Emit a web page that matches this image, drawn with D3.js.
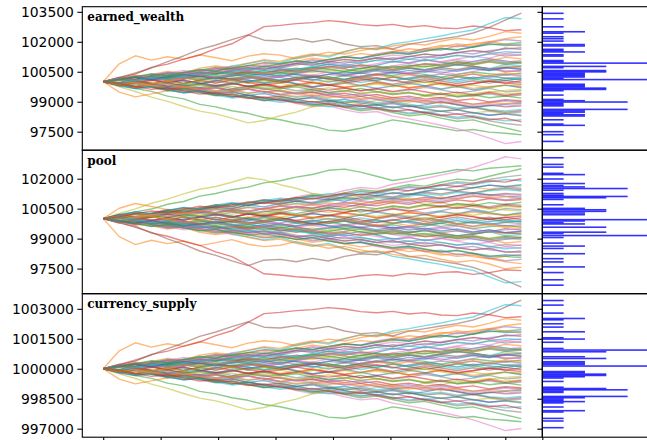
<!DOCTYPE html>
<html>
<head>
<meta charset="utf-8">
<script src="https://cdn.jsdelivr.net/npm/d3@7"></script>
<style>
  body { margin: 0; background: #fff; }
  svg { display: block; }
  .panel_label { font-family: "DejaVu Serif", serif; font-weight: bold; font-size: 12px; }
</style>
</head>
<body>
<div id="chart"></div>
<script>
var days = [0, 14, 28, 42, 56, 70, 84, 98, 112, 126, 140, 154, 168, 182, 196, 210, 224, 238, 252, 266, 280, 294, 308, 322, 336, 350, 364]

var earned_start = 100000
var pool_start = 100000
var supply_start = 1000000

// Change of earned_wealth from its start, one row per simulated run.
// The pool moves by the opposite amount; currency_supply by the same amount.
var walks = [
  [0, 180, 60, 290, 410, 250, 380, 520, 460, 300, 420, 610, 540, 700, 880, 760, 650, 820, 1010, 940, 1100, 980, 850, 1020, 1150, 1040, 930],
  [0, 900, 1300, 1080, 1250, 1120, 1350, 1200, 1050, 1280, 1400, 1330, 1150, 1300, 1480, 1390, 1560, 1700, 1620, 1480, 1650, 1820, 1750, 1900, 2010, 1880, 1790],
  [0, -120, -340, -480, -720, -860, -1130, -1260, -1450, -1580, -1790, -1900, -2080, -2210, -2420, -2480, -2330, -2120, -1910, -2030, -2180, -2310, -2460, -2390, -2520, -2580, -2650],
  [0, 210, 380, 720, 880, 1130, 1340, 1660, 1900, 2320, 2760, 2820, 2910, 2960, 3060, 2990, 2860, 2800, 2870, 2740, 2810, 2690, 2660, 2790, 2700, 2560, 2600],
  [0, 120, -80, 150, 340, 260, 480, 390, 620, 550, 790, 700, 920, 1110, 1020, 1240, 1180, 1390, 1520, 1430, 1650, 1580, 1810, 1730, 1960, 2110, 2040],
  [0, 200, 440, 690, 1010, 1290, 1620, 1840, 2110, 2350, 2080, 2040, 2160, 1990, 2120, 1890, 1760, 1810, 1640, 1880, 2010, 2140, 2260, 2440, 2720, 3090, 3430],
  [0, 110, -60, -210, -340, -290, -520, -660, -590, -810, -960, -880, -1090, -1240, -1190, -1410, -1560, -1490, -1720, -1860, -2010, -2180, -2350, -2560, -2820, -3100, -2990],
  [0, -140, 30, -110, -260, -180, -330, -220, -70, -240, -130, 40, -90, -250, -160, -320, -450, -370, -520, -410, -280, -400, -560, -470, -330, -510, -450],
  [0, -260, -490, -770, -980, -1240, -1470, -1610, -1820, -2060, -1940, -1700, -1520, -1260, -1140, -990, -1110, -920, -790, -960, -710, -820, -610, -760, -520, -430, -390],
  [0, -110, 90, 310, 190, 460, 590, 510, 790, 910, 1060, 940, 1190, 1350, 1240, 1490, 1710, 1640, 1890, 2010, 2160, 2290, 2460, 2590, 2910, 3210, 3150],
  [0, -90, -260, -130, -310, -450, -380, -560, -490, -680, -590, -760, -880, -810, -990, -870, -1050, -1180, -1090, -1250, -1160, -1010, -1140, -1280, -1200, -1130, -1080],
  [0, 230, 140, 360, 520, 430, 680, 790, 710, 930, 1100, 1020, 1240, 1390, 1310, 1520, 1680, 1600, 1790, 1910, 1840, 2030, 2180, 2090, 2270, 2510, 2430],
  [0, 150, 40, 210, 90, -80, 60, 190, 70, -60, 110, -40, 130, 260, 140, 310, 190, 60, 230, 100, -40, 90, 240, 150, 20, 170, 110],
  [0, -160, -50, 100, -40, -200, -110, 60, -70, -230, -120, -280, -190, -30, -150, -290, -180, -40, -170, -300, -210, -60, -190, -90, 40, -60, -130],
  [0, -120, -280, -200, -390, -530, -440, -620, -750, -680, -860, -790, -970, -1100, -1020, -1200, -1130, -1310, -1240, -1400, -1550, -1470, -1620, -1540, -1680, -1590, -1520],
  [0, 90, 230, 120, 280, 200, 340, 450, 360, 510, 420, 560, 680, 590, 720, 640, 510, 650, 780, 690, 560, 700, 610, 750, 660, 500, 560],
  [0, 170, 320, 240, 410, 560, 480, 630, 780, 700, 860, 770, 920, 1060, 980, 1130, 1050, 1200, 1340, 1260, 1390, 1310, 1460, 1570, 1490, 1410, 1490],
  [0, -80, 60, -90, -210, -120, -280, -170, -330, -250, -390, -300, -450, -370, -520, -440, -590, -500, -640, -560, -710, -630, -760, -690, -600, -730, -670],
  [0, -90, 60, 200, 120, 270, 190, 330, 250, 390, 480, 400, 540, 460, 610, 530, 680, 590, 730, 650, 790, 710, 850, 760, 640, 770, 700],
  [0, -180, -330, -250, -420, -560, -490, -680, -810, -740, -900, -1030, -960, -1120, -1250, -1180, -1340, -1270, -1430, -1560, -1490, -1650, -1780, -1700, -1850, -1960, -1900],
  [0, 200, 110, 310, 470, 400, 580, 720, 650, 810, 960, 890, 1040, 950, 1120, 1260, 1180, 1330, 1470, 1390, 1540, 1680, 1600, 1750, 1900, 1810, 1860],
  [0, -520, -760, -610, -450, -300, -420, -260, -110, 40, -100, -230, -150, 0, -130, -270, -190, -50, -170, -310, -220, -80, -200, -330, -240, -170, -250],
  [0, -120, 20, -100, 50, 180, 90, 230, 140, 280, 190, 60, 210, 330, 250, 120, 260, 390, 310, 450, 370, 230, 360, 490, 400, 340, 430],
  [0, -100, -240, -150, -310, -230, -380, -300, -460, -370, -510, -430, -580, -500, -650, -570, -720, -640, -800, -720, -870, -790, -940, -860, -1010, -900, -950],
  [0, 60, 250, 180, 30, 140, 320, 250, 90, -40, 110, 240, 380, 290, 160, 50, 200, 330, 470, 390, 250, 120, 270, 380, 230, 360, 300],
  [0, -60, 80, -70, -230, -370, -290, -450, -360, -210, -340, -480, -620, -540, -700, -810, -730, -890, -1020, -930, -1080, -1000, -1150, -1290, -1170, -1260, -1210],
  [0, 140, 30, 190, 330, 460, 370, 520, 410, 560, 690, 600, 480, 620, 750, 870, 780, 640, 790, 920, 830, 970, 1100, 990, 1130, 990, 1060],
  [0, -210, -120, -290, -460, -380, -550, -700, -620, -780, -930, -850, -1010, -1160, -1080, -1240, -1380, -1300, -1460, -1610, -1540, -1700, -1850, -1780, -1960, -2090, -2180],
  [0, 100, 260, 170, 330, 240, 120, 270, 410, 330, 470, 390, 540, 660, 570, 430, 560, 700, 610, 760, 880, 790, 930, 840, 980, 870, 930],
  [0, -130, 20, -140, -290, -220, -380, -510, -430, -580, -490, -650, -780, -700, -860, -990, -900, -1050, -970, -1120, -1250, -1170, -1320, -1240, -1400, -1460, -1385],
  [0, -60, 100, 230, 150, 20, -110, 40, 180, 90, -50, 80, 210, 130, -10, 120, 260, 170, 40, 190, 310, 220, 90, 230, 140, 60, 170],
  [0, 160, 310, 250, 430, 360, 540, 690, 610, 780, 930, 860, 1020, 1180, 1090, 1260, 1410, 1330, 1500, 1650, 1570, 1750, 1890, 1820, 2000, 2160, 2250],
  [0, -170, -80, -260, -420, -350, -520, -680, -610, -790, -940, -860, -1030, -1180, -1100, -1290, -1450, -1370, -1540, -1700, -1630, -1820, -1980, -1910, -2120, -2310, -2500],
  [0, 80, -60, 90, 240, 150, 300, 210, 360, 490, 400, 270, 410, 550, 460, 330, 470, 610, 530, 690, 600, 740, 860, 780, 640, 710, 770],
  [0, 110, -30, -160, -80, -230, -360, -280, -430, -350, -500, -630, -550, -410, -560, -690, -610, -760, -880, -800, -950, -860, -1000, -1120, -1040, -950, -1015],
  [0, -70, 90, 230, 150, 320, 460, 380, 550, 690, 610, 770, 900, 820, 980, 1110, 1030, 1190, 1100, 1260, 1380, 1300, 1450, 1560, 1480, 1690, 1620],
  [0, 130, 260, 170, 40, 180, 310, 220, 360, 270, 130, 280, 420, 330, 480, 390, 250, 400, 530, 440, 590, 500, 370, 520, 650, 560, 495],
  [0, 90, 250, 400, 320, 480, 400, 560, 690, 610, 760, 680, 830, 950, 870, 1010, 930, 1080, 1200, 1120, 1270, 1190, 1330, 1250, 1410, 1290, 1350],
  [0, -140, -300, -220, -380, -520, -440, -600, -740, -660, -810, -730, -880, -1010, -930, -1090, -1220, -1140, -1290, -1210, -1360, -1490, -1410, -1560, -1480, -1590, -1650],
  [0, -100, -240, -130, -280, -170, -40, -180, -60, 80, -70, 60, 190, 70, 210, 100, -40, 90, 230, 110, 250, 130, 0, 140, 260, 180, 110],
  [0, 140, 260, 110, -60, 80, -90, -240, -130, 20, 170, 60, -110, -260, -150, -20, -180, -330, -210, -70, -200, -360, -240, -410, -280, -170, -300],
  [0, -80, 110, 40, 220, 380, 290, 150, 310, 470, 400, 560, 450, 620, 770, 690, 850, 740, 600, 760, 910, 830, 990, 880, 1040, 1220, 1150],
  [0, 120, -20, -170, -60, -230, -140, -300, -420, -310, -180, -340, -250, -410, -560, -470, -330, -490, -610, -530, -690, -580, -740, -650, -800, -710, -820],
  [0, -130, -250, -110, 40, -90, 80, 220, 110, -40, -170, -60, 90, -50, -190, -80, 60, 200, 80, -60, 70, -90, -220, -100, 30, -70, 50],
  [0, 90, -40, 70, 210, 130, 270, 180, 30, 160, 300, 210, 90, 240, 370, 290, 440, 330, 470, 390, 520, 430, 580, 690, 560, 700, 620],
  [0, -160, -60, -230, -370, -290, -460, -610, -520, -680, -800, -720, -880, -760, -920, -1060, -970, -1120, -1030, -1190, -1320, -1240, -1380, -1290, -1440, -1530, -1450],
  [0, 110, 250, 150, 300, 420, 330, 490, 600, 520, 380, 530, 660, 580, 720, 850, 760, 900, 1030, 940, 1080, 1000, 1140, 1270, 1180, 1390, 1320],
  [0, -60, 90, 210, 100, 260, 170, 30, 170, 290, 200, 340, 230, 90, 230, 120, 270, 380, 260, 130, 270, 390, 300, 170, 320, 180, 240],
  [0, 70, -70, -210, -120, -270, -170, -320, -220, -370, -260, -410, -550, -440, -300, -450, -590, -490, -640, -520, -660, -560, -710, -600, -480, -620, -560],
  [0, 120, 30, 170, 300, 210, 80, 220, 350, 260, 400, 300, 450, 570, 480, 360, 510, 640, 550, 690, 600, 740, 860, 770, 650, 860, 800],
  [0, -210, -340, -240, -400, -550, -450, -610, -760, -660, -820, -960, -880, -1030, -950, -1100, -1240, -1150, -1300, -1210, -1370, -1480, -1400, -1550, -1680, -1610, -1700],
  [0, 160, 40, -90, 50, 190, 80, -60, 90, 230, 140, 10, 150, 280, 180, 50, 200, 330, 210, 350, 240, 120, 270, 400, 290, 440, 370],
  [0, -40, 130, 270, 190, 340, 250, 390, 520, 430, 560, 470, 600, 730, 640, 510, 660, 780, 700, 830, 740, 880, 1010, 920, 1060, 940, 1000],
  [0, 100, 220, 90, -50, 80, -70, -200, -80, -230, -120, -270, -160, -300, -420, -310, -450, -340, -480, -370, -500, -630, -520, -660, -540, -680, -600],
  [0, 180, 90, 260, 420, 340, 500, 650, 570, 720, 640, 800, 940, 860, 1000, 920, 1070, 1200, 1120, 1270, 1190, 1340, 1470, 1390, 1560, 1640, 1700],
  [0, -110, 40, -80, -220, -100, 50, -70, 80, 210, 100, -30, 120, 250, 140, 0, 140, 20, -120, 10, 150, 40, -90, 50, -70, 60, -50],
  [0, 80, -70, -200, -110, -260, -390, -300, -460, -370, -520, -650, -570, -720, -630, -780, -900, -820, -960, -880, -1020, -940, -1080, -1200, -1110, -1230, -1150],
  [0, 150, 270, 170, 320, 220, 370, 500, 410, 560, 460, 610, 520, 660, 790, 700, 840, 750, 620, 770, 900, 810, 950, 860, 1000, 890, 950],
  [0, -90, -220, -120, 20, -110, 30, 170, 60, -80, 60, -70, -210, -90, 50, -80, -220, -110, -250, -140, -10, -150, -280, -170, -300, -180, -200],
  [0, -90, 60, 200, 130, 290, 420, 340, 500, 630, 550, 700, 610, 760, 880, 800, 950, 1070, 990, 1140, 1050, 1190, 1310, 1230, 1380, 1510, 1450],
  [0, 130, 230, 100, 250, 370, 270, 140, 290, 410, 320, 460, 350, 220, 370, 500, 410, 550, 430, 570, 480, 620, 520, 660, 560, 700, 640],
  [0, -150, -30, -190, -320, -230, -380, -500, -410, -560, -470, -620, -740, -650, -790, -700, -850, -760, -900, -1020, -940, -1080, -990, -1130, -1040, -1100, -1000],
  [0, 90, 240, 380, 300, 460, 610, 540, 690, 820, 750, 900, 1040, 960, 1110, 1240, 1160, 1310, 1440, 1370, 1520, 1650, 1580, 1730, 1860, 1890, 1950],
  [0, -90, -240, -380, -300, -460, -620, -540, -690, -840, -760, -920, -1060, -980, -1130, -1270, -1190, -1340, -1480, -1400, -1550, -1690, -1610, -1760, -1900, -1830, -2000]
]

var earned_wealth = walks.map(function (w) { return w.map(function (d) { return earned_start + d }) })
var pool = walks.map(function (w) { return w.map(function (d) { return pool_start - d }) })
var currency_supply = walks.map(function (w) { return w.map(function (d) { return supply_start + d }) })

// Histograms of final values: [bin centre, count]
var hist_bin = 80
var earned_hist = [[103425, 1], [103147, 1], [102750, 1], [102502, 2], [102432, 1], [102253, 1], [102154, 1], [102035, 1], [101861, 2], [101791, 2], [101623, 1], [101558, 1], [101493, 2], [101349, 1], [101285, 1], [101061, 1], [100997, 1], [100932, 5], [100768, 3], [100704, 1], [100560, 3], [100495, 3], [100430, 2], [100366, 2], [100301, 2], [100237, 2], [100172, 1], [100108, 5], [99874, 2], [99810, 2], [99745, 2], [99680, 3], [99616, 3], [99551, 1], [99333, 1], [99114, 1], [99050, 2], [98985, 4], [98920, 1], [98856, 1], [98791, 1], [98617, 4], [98543, 2], [98478, 2], [98414, 1], [98349, 2], [98285, 2], [98096, 1], [97882, 1], [97818, 2], [97500, 1], [97351, 1], [97013, 1]]
var pool_hist = [[103048, 1], [102715, 1], [102581, 1], [102268, 1], [102204, 2], [101985, 1], [101757, 2], [101657, 1], [101588, 2], [101508, 4], [101424, 1], [101260, 1], [101176, 1], [101111, 4], [101046, 3], [100962, 1], [100694, 1], [100515, 2], [100445, 3], [100366, 3], [100281, 2], [100197, 2], [99949, 5], [99884, 2], [99800, 1], [99735, 2], [99571, 3], [99323, 3], [99253, 1], [99154, 5], [99055, 1], [98776, 1], [98627, 2], [98508, 1], [98245, 2], [97997, 1], [97833, 1], [97584, 2], [97301, 1], [96939, 1], [96670, 1]]
var supply_hist = [[1003415, 1], [1003185, 1], [1002785, 1], [1002515, 2], [1002450, 1], [1002250, 1], [1002085, 1], [1001850, 2], [1001550, 1], [1001485, 2], [1001325, 1], [1001015, 1], [1000935, 5], [1000850, 3], [1000600, 2], [1000515, 3], [1000350, 2], [1000285, 2], [1000215, 2], [1000135, 5], [999860, 2], [999795, 2], [999730, 3], [999665, 3], [999600, 2], [999535, 1], [999365, 1], [999075, 1], [999010, 3], [998945, 4], [998880, 1], [998815, 1], [998615, 4], [998550, 2], [998485, 1], [998420, 1], [998355, 2], [998290, 1], [998085, 1], [997900, 2], [997835, 1], [997515, 1], [997385, 1], [997050, 1]]

var earned_ticks = [96000, 97500, 99000, 100500, 102000, 103500]
var pool_ticks = [96000, 97500, 99000, 100500, 102000, 103500]
var supply_ticks = [997000, 998500, 1000000, 1001500, 1003000]
var day_ticks = [0, 50, 100, 150, 200, 250, 300, 350]

var panels = [
  { "name": "earned_wealth", "series": earned_wealth, "hist": earned_hist, "ticks": earned_ticks },
  { "name": "pool", "series": pool, "hist": pool_hist, "ticks": pool_ticks },
  { "name": "currency_supply", "series": currency_supply, "hist": supply_hist, "ticks": supply_ticks }
]

var tab10 = ["#1f77b4", "#ff7f0e", "#2ca02c", "#d62728", "#9467bd", "#8c564b", "#e377c2", "#7f7f7f", "#bcbd22", "#17becf"]

var dims = {
  "width": 647,
  "height": 440,
  "plot_left": 82.3,
  "split_x": 542.3,
  "hist_w": 112,
  "top": 6.7,
  "panel_h": 143.5,
  "tick_len": 4.9,
  "tick_pad": 3.5
}

var svg = d3.select("#chart").append("svg")
  .attr("width", dims.width)
  .attr("height", dims.height)

var span = days[days.length - 1] - days[0]
var x = d3.scaleLinear()
  .domain([days[0] - 0.05 * span, days[days.length - 1] + 0.05 * span])
  .range([dims.plot_left, dims.split_x])

var hist_max = d3.max(panels, function (p) { return d3.max(p.hist, function (d) { return d[1] }) })
var hx = d3.scaleLinear()
  .domain([0, hist_max * 1.05])
  .range([dims.split_x, dims.split_x + dims.hist_w])

function styleAxis(g) {
  g.select(".domain").remove()
  g.selectAll(".tick line")
    .attr("stroke", "#000")
    .attr("stroke-width", 1.1)
  g.selectAll(".tick text")
    .attr("fill", "#000")
    .attr("font-family", "DejaVu Sans, sans-serif")
    .attr("font-size", "13.9px")
}

panels.forEach(function (panel, row) {
  var top = dims.top + row * dims.panel_h
  var bottom = top + dims.panel_h

  var ext = d3.extent([].concat.apply([], panel.series))
  var pad = (ext[1] - ext[0]) * 0.05
  var y = d3.scaleLinear()
    .domain([ext[0] - pad, ext[1] + pad])
    .range([bottom, top])
  var ticks = panel.ticks.filter(function (t) { return t >= y.domain()[0] && t <= y.domain()[1] })

  var g = svg.append("g").attr("class", "panel")

  // random walks
  var line = d3.line()
    .x(function (d, i) { return x(days[i]) })
    .y(function (d) { return y(d) })

  g.append("g").attr("class", "walks")
    .selectAll("path")
    .data(panel.series)
    .join("path")
      .attr("d", line)
      .attr("fill", "none")
      .attr("stroke", function (d, i) { return tab10[i % 10] })
      .attr("stroke-width", 1.4)
      .attr("stroke-opacity", 0.55)
      .attr("stroke-linejoin", "round")

  // histogram of final values
  g.append("g").attr("class", "hist")
    .selectAll("rect")
    .data(panel.hist)
    .join("rect")
      .attr("x", hx(0))
      .attr("y", function (d) { return y(d[0] + hist_bin / 2) })
      .attr("width", function (d) { return hx(d[1]) - hx(0) })
      .attr("height", function (d) { return y(d[0] - hist_bin / 2) - y(d[0] + hist_bin / 2) })
      .attr("fill", "#0000ff")
      .attr("fill-opacity", 0.8)

  // frames
  g.append("rect")
    .attr("x", dims.plot_left)
    .attr("y", top)
    .attr("width", dims.split_x - dims.plot_left)
    .attr("height", dims.panel_h)
    .attr("fill", "none")
    .attr("stroke", "#000")
    .attr("stroke-width", 1.1)
  g.append("rect")
    .attr("x", dims.split_x)
    .attr("y", top)
    .attr("width", dims.hist_w)
    .attr("height", dims.panel_h)
    .attr("fill", "none")
    .attr("stroke", "#000")
    .attr("stroke-width", 1.1)

  // y axes
  g.append("g")
    .attr("transform", "translate(" + dims.plot_left + ",0)")
    .call(d3.axisLeft(y).tickValues(ticks).tickSize(dims.tick_len).tickPadding(dims.tick_pad).tickFormat(d3.format("d")))
    .call(styleAxis)
  g.append("g")
    .attr("transform", "translate(" + dims.split_x + ",0)")
    .call(d3.axisLeft(y).tickValues(ticks).tickSize(dims.tick_len).tickFormat(""))
    .call(styleAxis)

  g.append("text")
    .attr("class", "panel_label")
    .attr("x", dims.plot_left + 5)
    .attr("y", top + 14.5)
    .text(panel.name)

  if (row === panels.length - 1) {
    g.append("g")
      .attr("transform", "translate(0," + bottom + ")")
      .call(d3.axisBottom(x).tickValues(day_ticks).tickSize(dims.tick_len).tickFormat(""))
      .call(styleAxis)
    g.append("g")
      .attr("transform", "translate(0," + bottom + ")")
      .call(d3.axisBottom(hx).tickValues([0]).tickSize(dims.tick_len).tickFormat(""))
      .call(styleAxis)
  }
})
</script>
</body>
</html>
